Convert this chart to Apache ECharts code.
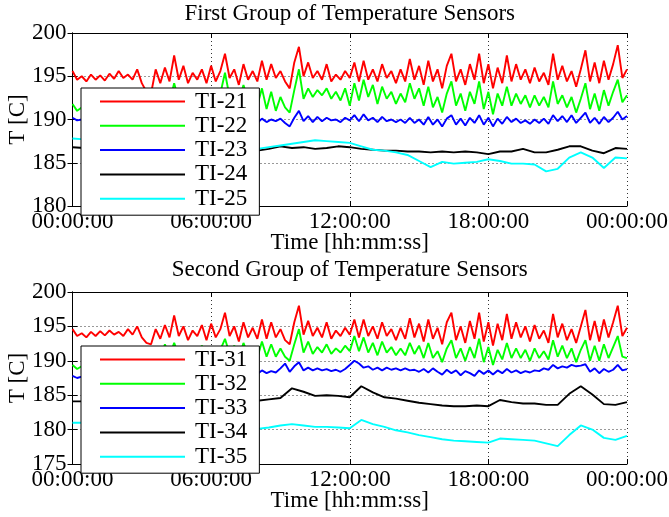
<!DOCTYPE html>
<html>
<head>
<meta charset="utf-8">
<script src="https://cdn.jsdelivr.net/npm/echarts@6.0.0/dist/echarts.min.js"></script>
<style>
html,body{margin:0;padding:0;background:#fff;}
#chart{width:669px;height:517px;}
</style>
</head>
<body>
<div id="chart"></div>
<script>
// ---- Data (hours 0..24); fine series every 0.2 h, smooth series every 0.5 h ----
const fineStep = 0.2;
const coarseStep = 0.5;
const xTicks = [0, 6, 12, 18, 24];

const names1 = ['TI-21', 'TI-22', 'TI-23', 'TI-24', 'TI-25'];
const names2 = ['TI-31', 'TI-32', 'TI-33', 'TI-34', 'TI-35'];

const ti21 = [195.6,194.6,195.0,194.4,195.2,194.6,195.1,194.5,195.3,194.7,
195.6,194.8,195.2,194.6,195.8,194.2,193.2,193.0,195.8,194.2,
196.0,194.4,197.4,194.6,196.2,194.2,195.4,194.6,195.8,194.2,
196.2,194.4,195.6,197.6,194.8,195.8,194.0,196.4,194.6,195.6,
194.4,196.8,194.6,196.4,194.8,195.6,194.4,193.6,196.6,198.4,
195.0,196.6,194.8,195.6,194.6,196.4,194.4,195.2,194.6,195.6,
194.8,196.6,194.4,196.8,194.6,195.8,194.4,196.4,194.8,195.6,
194.2,195.8,194.4,197.0,194.6,196.2,194.0,196.8,194.4,195.8,
193.6,196.2,197.6,194.4,195.8,194.0,196.4,194.6,197.6,194.2,
196.4,193.6,196.0,194.2,197.4,194.4,196.4,194.6,195.8,194.2,
196.0,194.4,195.4,194.0,197.6,194.6,196.2,194.4,195.6,193.8,
195.8,198.0,194.4,196.6,194.2,196.8,194.6,196.4,198.6,194.8,
195.8];
const ti22 = [191.8,191.0,191.4,191.2,191.8,191.4,192.0,191.6,192.2,191.8,
192.4,191.8,192.2,191.6,192.6,191.8,191.2,191.0,192.6,191.8,
193.0,192.0,194.2,192.2,193.2,191.8,192.8,192.0,193.0,191.6,
193.2,192.0,193.0,195.4,192.6,193.6,192.0,194.0,192.2,193.0,
191.6,193.6,191.2,193.2,191.0,192.6,191.4,190.8,193.4,195.8,
192.4,193.6,192.6,193.4,192.8,193.6,192.4,193.2,192.2,193.6,
191.6,194.2,192.2,194.6,192.6,194.0,191.8,193.8,192.4,193.2,
191.8,193.0,192.0,194.2,192.4,193.6,191.6,193.8,191.4,192.6,
190.8,193.0,194.4,191.6,193.0,191.0,193.2,191.8,194.4,191.2,
193.2,190.6,193.0,191.6,193.8,191.6,193.0,191.8,192.8,191.4,
192.8,191.6,192.6,191.4,194.4,191.8,192.8,191.4,192.6,190.8,
192.4,194.2,191.2,193.0,191.0,193.4,191.6,193.2,194.6,192.0,
192.8];
const ti23 = [190.2,189.9,190.0,189.8,190.1,189.9,190.2,189.9,190.1,189.8,
190.2,189.9,190.0,189.8,190.2,189.9,189.6,189.5,190.2,189.8,
190.3,189.9,190.6,189.8,190.2,189.7,190.1,189.8,190.2,189.7,
190.3,189.8,190.0,190.7,189.8,190.2,189.6,190.3,189.7,190.1,
189.6,190.1,189.7,190.0,189.8,190.1,189.6,189.2,190.2,191.0,
189.8,190.4,189.7,190.3,189.8,190.2,189.9,190.0,189.7,190.2,
189.9,190.5,189.8,190.6,189.9,190.2,189.7,190.3,189.8,190.0,
189.7,190.0,189.6,190.2,189.6,190.0,189.4,190.3,189.4,190.0,
189.2,190.1,190.5,189.4,190.1,189.3,190.2,189.6,190.5,189.4,
190.2,189.2,190.1,189.5,190.3,189.7,190.1,189.6,189.9,189.5,
190.0,189.6,190.1,189.5,190.5,189.8,190.4,189.7,190.5,189.6,
190.2,190.8,189.6,190.2,189.5,190.3,189.7,190.2,190.9,190.0,
190.4];
const ti24 = [186.8,186.7,186.7,186.6,186.6,186.6,186.5,186.5,186.6,186.6,
186.7,186.6,186.6,186.5,186.5,186.5,186.4,186.6,186.9,186.7,
186.8,186.6,186.7,186.9,186.8,186.6,186.5,186.4,186.4,186.3,
186.3,186.2,186.3,186.2,186.3,186.2,186.0,186.3,186.3,186.6,
186.2,186.2,186.5,186.9,186.9,186.4,186.1,186.7,186.6];
const ti25 = [187.8,187.7,187.6,187.5,187.4,187.3,187.2,187.1,187.0,186.9,
186.8,186.8,186.7,186.7,186.6,186.6,186.6,186.8,187.0,187.2,
187.4,187.6,187.5,187.4,187.3,186.9,186.5,186.4,186.2,185.9,
185.2,184.5,185.1,184.9,185.0,185.1,185.4,185.2,184.9,184.9,
184.8,184.0,184.3,185.6,186.2,185.6,184.4,185.6,185.5];

const ti31 = [194.6,193.6,194.0,193.4,194.2,193.6,194.3,193.7,194.4,193.8,
194.2,193.6,194.6,193.8,195.0,193.4,192.6,192.4,194.6,193.2,
195.2,193.4,196.6,193.6,195.0,193.0,194.4,193.6,195.2,193.0,
195.4,193.4,194.6,197.0,193.6,195.0,192.8,195.6,193.4,194.8,
193.2,196.0,193.2,195.6,193.4,194.6,193.0,192.4,195.6,198.0,
193.8,195.8,193.6,194.8,193.4,195.6,193.2,194.4,193.6,194.8,
193.8,196.0,193.4,196.0,193.6,195.0,193.2,195.6,193.6,194.6,
193.0,194.8,193.2,196.2,193.4,195.4,192.8,196.0,193.2,194.8,
192.4,195.6,197.0,193.0,195.0,192.6,195.8,193.2,197.0,192.8,
195.6,192.2,195.4,193.0,196.8,193.2,195.6,193.4,195.0,192.8,
195.2,193.2,194.4,192.6,196.8,193.4,195.4,193.0,194.6,192.6,
195.0,197.4,193.0,195.8,192.8,196.0,193.4,195.6,198.0,193.6,
194.8];
const ti32 = [189.4,188.8,189.2,189.0,189.6,189.2,189.8,189.4,190.0,189.6,
190.2,189.8,190.4,190.0,190.6,190.0,189.6,189.4,191.0,190.2,
192.4,190.6,192.6,190.8,192.0,190.4,191.6,190.6,192.2,190.4,
192.0,190.8,191.6,193.2,191.0,192.2,190.4,192.6,190.8,192.0,
190.4,192.8,190.6,192.4,190.6,191.8,190.6,190.0,192.4,194.6,
191.2,192.8,191.0,192.0,191.2,192.4,191.0,191.8,191.2,192.2,
191.4,193.6,191.4,193.4,191.2,192.6,190.8,192.8,191.2,192.0,
190.8,191.8,190.8,192.6,191.0,192.2,190.4,192.6,190.4,191.4,
189.8,191.8,193.0,190.4,191.8,190.0,192.0,190.4,193.2,189.8,
192.0,189.4,191.6,190.2,192.6,190.4,191.8,190.4,191.6,190.0,
191.8,190.4,191.4,190.2,193.0,190.6,192.2,190.4,191.8,189.8,
191.6,193.0,190.0,192.2,190.0,192.4,190.4,192.0,193.6,190.6,
190.4];
const ti33 = [187.8,187.5,187.7,187.5,187.8,187.6,187.9,187.7,188.0,187.8,
188.1,187.8,188.2,187.9,188.3,188.0,187.8,187.8,188.4,188.0,
188.6,188.2,189.0,188.3,188.7,188.2,188.6,188.2,188.7,188.2,
188.8,188.3,188.6,189.2,188.4,188.7,188.2,188.8,188.3,188.6,
188.1,188.6,188.2,188.5,188.3,188.9,189.6,188.4,189.2,189.8,
188.6,189.0,188.6,188.9,188.6,188.8,188.5,188.7,188.4,188.8,
189.4,190.0,189.6,189.0,189.2,188.7,189.0,188.6,189.0,188.7,
188.9,188.6,188.9,188.6,188.7,188.4,188.8,188.3,188.9,188.4,
188.0,188.7,188.2,188.6,187.9,188.5,188.2,187.8,188.6,188.1,
188.6,188.0,188.6,188.2,188.8,188.3,188.6,188.2,188.5,188.3,
188.6,188.5,188.9,188.7,189.4,188.9,189.2,189.0,189.4,189.2,
189.3,189.5,188.4,188.9,188.2,188.8,188.4,188.7,189.4,188.6,
188.8];
const ti34 = [184.1,184.1,184.1,184.1,184.1,184.1,184.2,184.2,184.2,184.2,
184.3,184.3,184.3,184.3,184.2,184.2,184.2,184.4,184.6,186.0,
185.5,184.9,185.0,184.9,184.7,186.3,185.4,184.7,184.5,184.2,
183.9,183.7,183.5,183.4,183.4,183.5,183.4,184.3,184.0,183.8,
183.8,183.6,183.6,185.2,186.3,185.1,183.7,183.6,184.0];
const ti35 = [181.0,181.0,180.9,180.9,180.8,180.7,180.7,180.6,180.5,180.4,
180.3,180.3,180.2,180.2,180.1,180.1,180.1,180.3,180.6,180.8,
180.6,180.4,180.4,180.3,180.2,181.4,180.8,180.4,179.9,179.6,
179.2,178.9,178.6,178.4,178.3,178.2,178.1,178.7,178.6,178.5,
178.4,178.0,177.6,179.2,180.6,180.0,178.8,178.5,179.1];

const colors = ['#ff0000', '#00ff00', '#0000ff', '#000000', '#00ffff'];
// ---------------------------------------------------------------------------

const FONT = 'Liberation Serif';
const FS = 23;

function pairs(arr, step) {
  return arr.map((v, i) => [Math.round(i * step * 100) / 100, v]);
}
function hhmmss(v) {
  const h = v % 24;
  return (h < 10 ? '0' : '') + h + ':00:00';
}

const gridPos = [
  {left: 72.5, right: 42, top: 33, height: 173},
  {left: 72.5, right: 42, top: 292, height: 172}
];
const yRange = [[180, 200], [175, 200]];

const xAxes = [], yAxes = [];
[0, 1].forEach(g => {
  xAxes.push({
    type: 'value', gridIndex: g, min: xTicks[0], max: xTicks[xTicks.length - 1], interval: 6,
    name: 'Time [hh:mm:ss]', nameLocation: 'middle', nameGap: 25, nameMoveOverlap: false,
    nameTextStyle: {fontFamily: FONT, fontSize: FS, color: '#000'},
    axisLine: {show: true, lineStyle: {color: '#000', width: 1}},
    axisTick: {show: true, inside: true, length: 5, lineStyle: {color: '#000'}},
    axisLabel: {fontFamily: FONT, fontSize: FS, color: '#000', margin: 4, formatter: hhmmss},
    splitLine: {show: true, lineStyle: {color: '#333', type: [1, 3], width: 1}}
  });
  yAxes.push({
    type: 'value', gridIndex: g, min: yRange[g][0], max: yRange[g][1], interval: 5,
    name: 'T [C]', nameLocation: 'middle', nameGap: 43, nameMoveOverlap: false,
    nameTextStyle: {fontFamily: FONT, fontSize: FS, color: '#000'},
    axisLine: {show: true, lineStyle: {color: '#000', width: 1}},
    axisTick: {show: true, inside: true, length: 5, lineStyle: {color: '#000'}},
    axisLabel: {fontFamily: FONT, fontSize: FS, color: '#000', margin: 6},
    splitLine: {show: true, lineStyle: {color: '#333', type: [1, 3], width: 1}}
  });
});
[0, 1].forEach(g => {
  xAxes.push({
    type: 'value', gridIndex: g, position: 'top', min: xTicks[0], max: xTicks[xTicks.length - 1], interval: 6,
    axisLine: {show: true, lineStyle: {color: '#000', width: 1}},
    axisTick: {show: true, inside: true, length: 5, lineStyle: {color: '#000'}},
    axisLabel: {show: false}, splitLine: {show: false}
  });
  yAxes.push({
    type: 'value', gridIndex: g, position: 'right', min: yRange[g][0], max: yRange[g][1], interval: 5,
    axisLine: {show: true, lineStyle: {color: '#000', width: 1}},
    axisTick: {show: true, inside: true, length: 5, lineStyle: {color: '#000'}},
    axisLabel: {show: false}, splitLine: {show: false}
  });
});

const groups = [
  {names: names1, data: [ti21, ti22, ti23, ti24, ti25]},
  {names: names2, data: [ti31, ti32, ti33, ti34, ti35]}
];
const series = [];
groups.forEach((grp, g) => {
  grp.data.forEach((arr, k) => {
    const step = k < 3 ? fineStep : coarseStep;
    series.push({
      type: 'line', name: grp.names[k], xAxisIndex: g, yAxisIndex: g,
      data: pairs(arr, step), symbol: 'none', showSymbol: false, smooth: false,
      color: colors[k],
      lineStyle: {color: colors[k], width: 1.9},
      itemStyle: {color: colors[k]},
      z: 2
    });
  });
});

const legendTops = [88, 346];
const legends = groups.map((grp, g) => ({
  data: grp.names.map((n, k) => ({
    name: n,
    icon: 'rect',
    itemStyle: {color: colors[k], borderWidth: 0, opacity: 1}
  })),
  orient: 'vertical', left: 81, top: legendTops[g],
  icon: 'rect',
  itemWidth: 85, itemHeight: 2, itemGap: 1.3,
  padding: [2, 12, 5, 19],
  borderColor: '#000', borderWidth: 1, backgroundColor: '#fff',
  selectedMode: false,
  textStyle: {fontFamily: FONT, fontSize: FS, color: '#000', lineHeight: 20, padding: [0, 0, 0, 5]},
  z: 10
}));

const option = {
  animation: false,
  backgroundColor: '#fff',
  color: colors,
  title: [
    {text: 'First Group of Temperature Sensors', left: 349.75, textAlign: 'center', top: 2,
     textStyle: {fontFamily: FONT, fontSize: FS, fontWeight: 'normal', color: '#000'}, padding: 0},
    {text: 'Second Group of Temperature Sensors', left: 349.75, textAlign: 'center', top: 258,
     textStyle: {fontFamily: FONT, fontSize: FS, fontWeight: 'normal', color: '#000'}, padding: 0}
  ],
  grid: gridPos.map(p => Object.assign({show: false, outerBoundsMode: 'none', containLabel: false}, p)),
  xAxis: xAxes,
  yAxis: yAxes,
  legend: legends,
  series: series
};

const chart = echarts.init(document.getElementById('chart'), null, {renderer: 'canvas'});
chart.setOption(option);
</script>
</body>
</html>
